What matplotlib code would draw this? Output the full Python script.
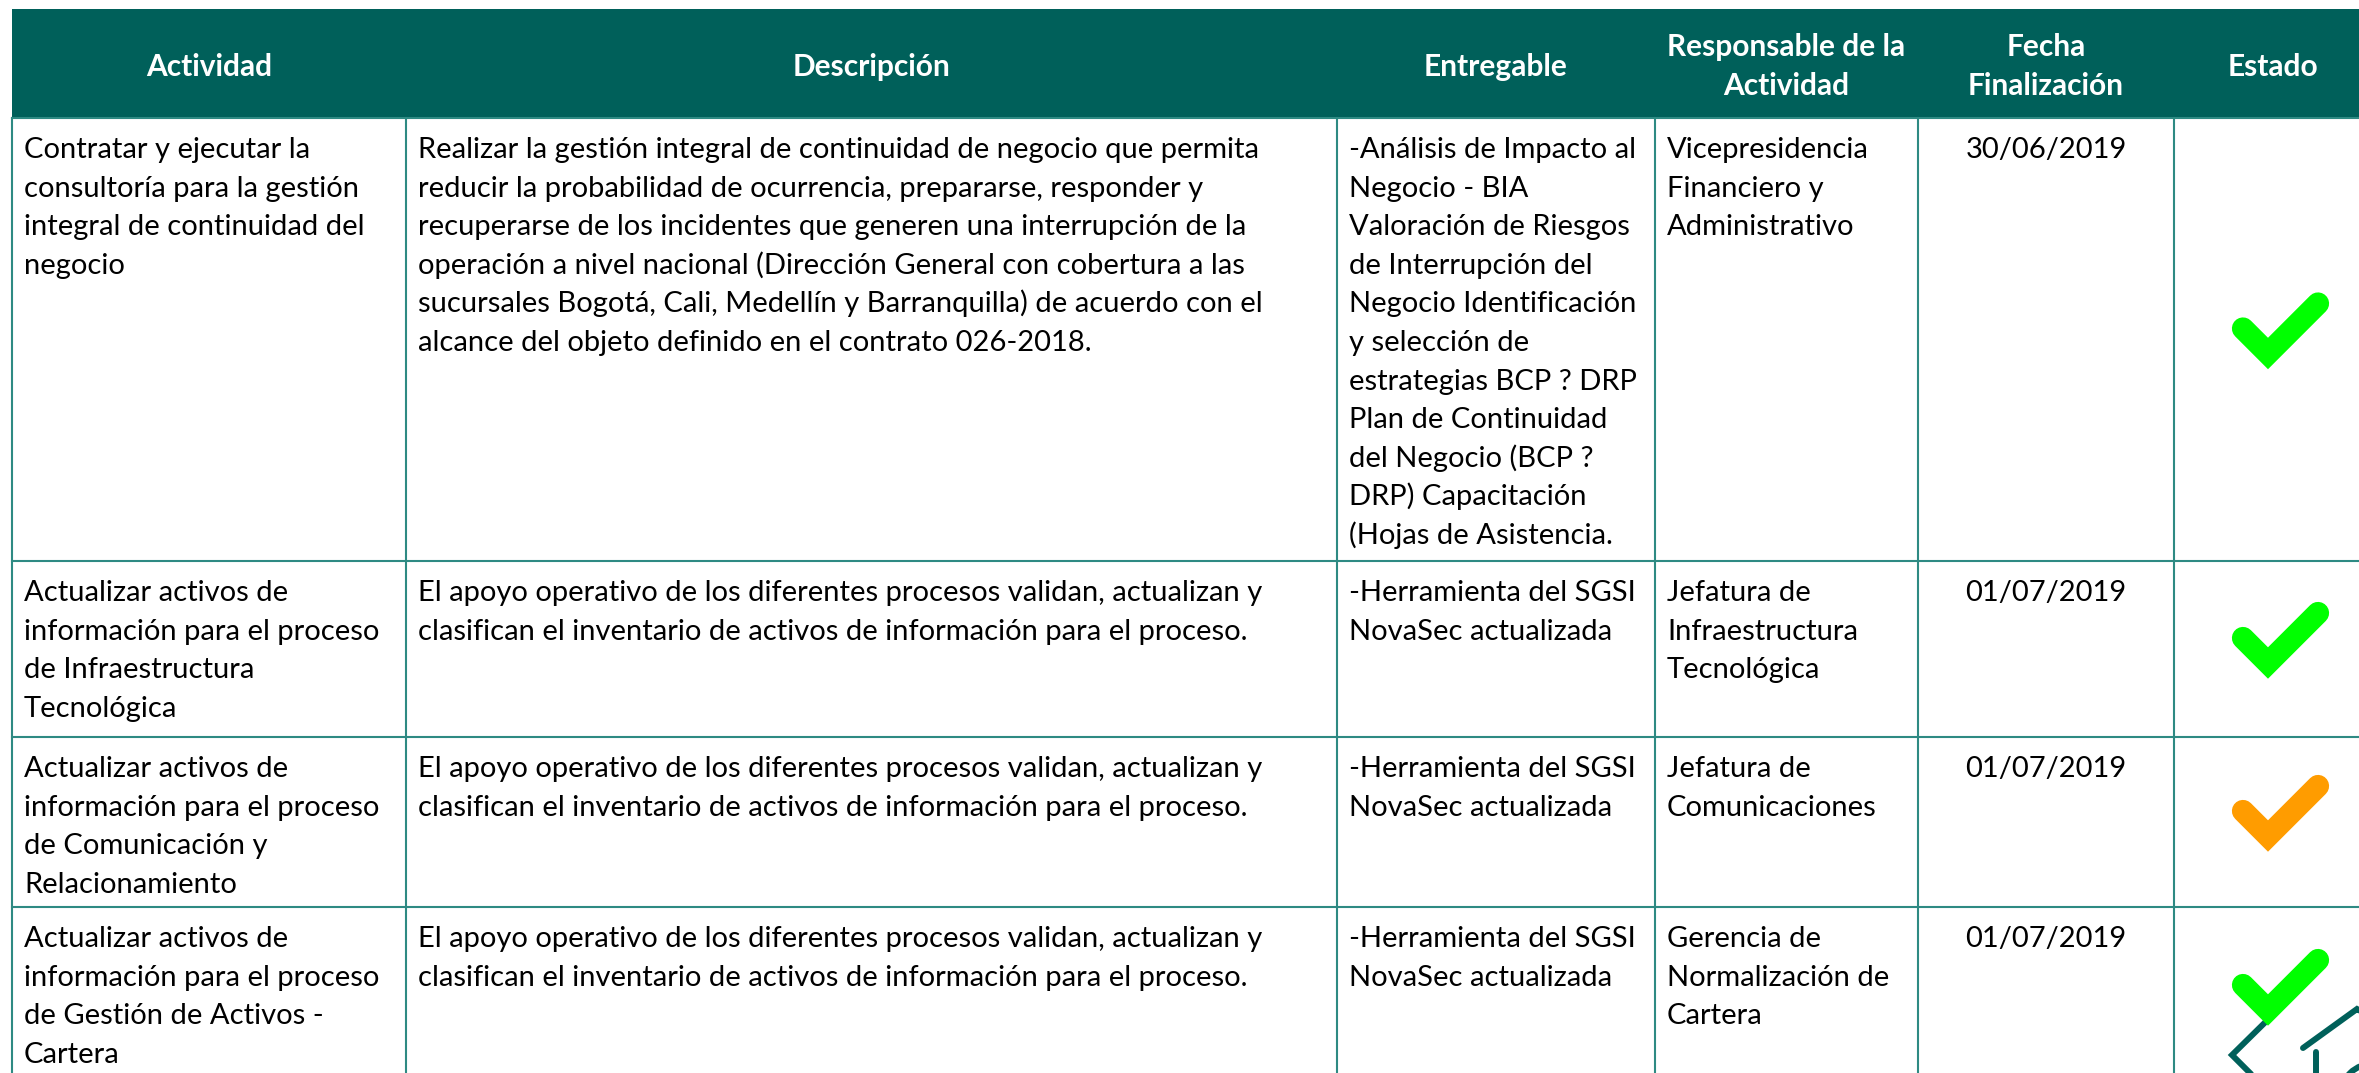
import matplotlib
matplotlib.use("Agg")
import matplotlib.pyplot as plt
from matplotlib.patches import Rectangle, Arc

plt.rcParams['font.family'] = ['Lato', 'DejaVu Sans']

# ---- datos de la tabla ----
encabezados = [["Actividad"], ["Descripción"], ["Entregable"],
               ["Responsable de la", "Actividad"], ["Fecha", "Finalización"], ["Estado"]]

actividades = [
    ["Contratar y ejecutar la", "consultoría para la gestión", "integral de continuidad del", "negocio"],
    ["Actualizar activos de", "información para el proceso", "de Infraestructura", "Tecnológica"],
    ["Actualizar activos de", "información para el proceso", "de Comunicación y", "Relacionamiento"],
    ["Actualizar activos de", "información para el proceso", "de Gestión de Activos -", "Cartera"],
]

descripciones = [
    ["Realizar la gestión integral de continuidad de negocio que permita",
     "reducir la probabilidad de ocurrencia, prepararse, responder y",
     "recuperarse de los incidentes que generen una interrupción de la",
     "operación a nivel nacional (Dirección General con cobertura a las",
     "sucursales Bogotá, Cali, Medellín y Barranquilla) de acuerdo con el",
     "alcance del objeto definido en el contrato 026-2018."],
    ["El apoyo operativo de los diferentes procesos validan, actualizan y",
     "clasifican el inventario de activos de información para el proceso."],
    ["El apoyo operativo de los diferentes procesos validan, actualizan y",
     "clasifican el inventario de activos de información para el proceso."],
    ["El apoyo operativo de los diferentes procesos validan, actualizan y",
     "clasifican el inventario de activos de información para el proceso."],
]

entregables = [
    ["-Análisis de Impacto al", "Negocio - BIA", "Valoración de Riesgos", "de Interrupción del",
     "Negocio Identificación", "y selección de", "estrategias BCP ? DRP", "Plan de Continuidad",
     "del Negocio (BCP ?", "DRP) Capacitación", "(Hojas de Asistencia."],
    ["-Herramienta del SGSI", "NovaSec actualizada"],
    ["-Herramienta del SGSI", "NovaSec actualizada"],
    ["-Herramienta del SGSI", "NovaSec actualizada"],
]

responsables = [
    ["Vicepresidencia", "Financiero y", "Administrativo"],
    ["Jefatura de", "Infraestructura", "Tecnológica"],
    ["Jefatura de", "Comunicaciones"],
    ["Gerencia de", "Normalización de", "Cartera"],
]

fechas = ["30/06/2019", "01/07/2019", "01/07/2019", "01/07/2019"]
estados = ["completo", "completo", "parcial", "completo"]

# ---- estilo / geometria (pixeles) ----
W, H = 2359, 1073
col_x = [12, 406, 1337, 1655, 1918, 2174, 2372]
head_top, head_bot = 9, 118
row_y = [118, 561, 737, 907, 1085]
header_color = '#00605A'
grid_color = '#2E8A83'
estado_color = {'completo': '#00FF00', 'parcial': '#FF9C00'}
fs = 21
fs_head = 21.5
line_h = 38.6
pad = 12

fig = plt.figure(figsize=(W / 100, H / 100), dpi=100)
ax = fig.add_axes([0, 0, 1, 1])
ax.set_xlim(0, W)
ax.set_ylim(H, 0)
ax.axis('off')

# encabezado
ax.add_patch(Rectangle((col_x[0], head_top), col_x[-1] - col_x[0], head_bot - head_top,
                       facecolor=header_color, edgecolor='none', zorder=1))
for j, lines in enumerate(encabezados):
    cx = (col_x[j] + col_x[j + 1]) / 2
    bases = [76] if len(lines) == 1 else [56, 95]
    for ln, yb in zip(lines, bases):
        ax.text(cx, yb, ln, ha='center', va='baseline', fontsize=fs_head,
                fontweight='bold', color='white', zorder=3)

# lineas de la rejilla
for y in row_y:
    ax.plot([col_x[0], col_x[-1]], [y, y], color=grid_color, lw=1.5, zorder=2)
for x in col_x:
    ax.plot([x, x], [head_bot, row_y[-1]], color=grid_color, lw=1.5, zorder=2)

# celdas de texto
columnas = [actividades, descripciones, entregables, responsables]
for i in range(len(actividades)):
    top = row_y[i]
    for j, col in enumerate(columnas):
        for k, ln in enumerate(col[i]):
            ax.text(col_x[j] + pad, top + 40 + k * line_h, ln, ha='left', va='baseline',
                    fontsize=fs, color='black', zorder=3)
    ax.text((col_x[4] + col_x[5]) / 2, top + 40, fechas[i], ha='center', va='baseline',
            fontsize=fs, color='black', zorder=3)

# logo parcial en la esquina
logo = dict(color=header_color, lw=4.3, solid_capstyle='round', solid_joinstyle='miter', zorder=4)
ax.plot([2300, 2232, 2265], [988, 1055, 1088], **logo)
ax.plot([2303, 2357, 2380], [1048, 1009, 1022], **logo)
ax.plot([2316, 2316], [1052, 1090], **logo)
ax.add_patch(Arc((2372, 1095), 62, 62, theta1=150, theta2=250, color=header_color, lw=4.3, zorder=4))

# marcas de estado
for i, est in enumerate(estados):
    mid = (row_y[i] + row_y[i + 1]) / 2
    vx, vy = 2268, mid + 14
    ax.plot([vx - 25, vx, vx + 50], [vy - 25, vy, vy - 50], color=estado_color[est],
            lw=16, solid_capstyle='round', solid_joinstyle='miter', zorder=5)

fig.savefig('out.png', dpi=100)
